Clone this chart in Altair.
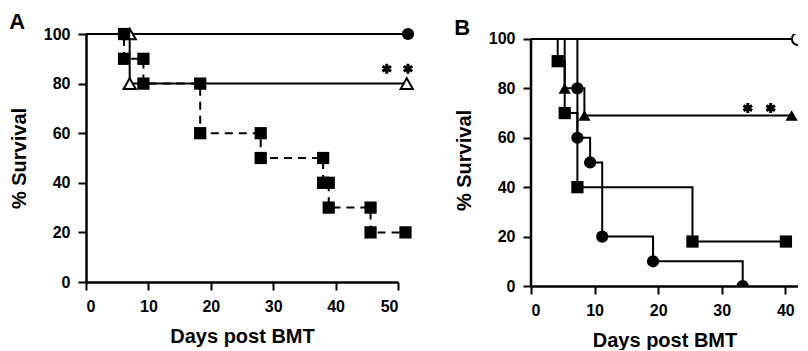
import altair as alt
import pandas as pd

FONT = "Liberation Sans"

# ---------------- Panel A (vertices of the survival step curves) ----------------
a_circle_day = [0, 51.6]
a_circle_surv = [100, 100]
a_circle_mark = [0, 1]

a_tri_day = [0, 7.0, 7.0, 51.4]
a_tri_surv = [100, 100, 80, 80]
a_tri_mark = [0, 1, 1, 1]

a_sq_day = [0, 6.1, 6.1, 9.2, 9.2, 18.3, 18.3, 28.0, 28.0, 38.0, 38.0, 38.9, 38.9, 45.6, 45.6, 51.2]
a_sq_surv = [100, 100, 90, 90, 80, 80, 60, 60, 50, 50, 40, 40, 30, 30, 20, 20]
a_sq_mark = [0, 1, 1, 1, 1, 1, 1, 1, 1, 1, 1, 1, 1, 1, 1, 1]

a_star_day = [48.2, 51.6]
a_star_surv = [86, 86]

# ---------------- Panel B ----------------
b_ocircle_day = [0, 42.0]
b_ocircle_surv = [100, 100]
b_ocircle_mark = [0, 1]

b_tri_day = [0, 5.3, 5.3, 8.4, 8.4, 41.0]
b_tri_surv = [100, 100, 80, 80, 69, 69]
b_tri_mark = [0, 0, 1, 0, 1, 1]

b_sq_day = [0, 4.2, 4.2, 5.3, 5.3, 7.3, 7.3, 25.4, 25.4, 40.1]
b_sq_surv = [100, 100, 91, 91, 70, 70, 40, 40, 18, 18]
b_sq_mark = [0, 0, 1, 0, 1, 0, 1, 0, 1, 1]

b_circle_day = [0, 7.3, 7.3, 7.3, 9.3, 9.3, 11.2, 11.2, 19.2, 19.2, 33.3, 33.3]
b_circle_surv = [100, 100, 80, 60, 60, 50, 50, 20, 20, 10, 10, 0]
b_circle_mark = [0, 0, 1, 1, 0, 1, 0, 1, 0, 1, 0, 1]

b_star_day = [34.1, 37.7]
b_star_surv = [72, 72]

x_ticks_a = [0, 10, 20, 30, 40, 50]
x_ticks_b = [0, 10, 20, 30, 40]
y_ticks = [0, 20, 40, 60, 80, 100]

STAR = "M0,-1L0,1M-0.87,-0.5L0.87,0.5M-0.87,0.5L0.87,-0.5"


def series_layers(day, surv, mark, shape, open_, dash, xs, ys, xax, yax, clip):
    df = pd.DataFrame({"day": day, "surv": surv, "mark": mark, "ord": list(range(len(day)))})
    base = alt.Chart(df)
    line_kw = dict(color="black", strokeWidth=2, clip=clip)
    if dash:
        line_kw["strokeDash"] = dash
    line = base.mark_line(**line_kw).encode(
        x=alt.X("day:Q", scale=xs, axis=xax),
        y=alt.Y("surv:Q", scale=ys, axis=yax),
        order="ord:Q",
    )
    if open_:
        pk = dict(shape=shape, filled=True, fill="white", stroke="black", strokeWidth=2,
                  size=150, opacity=1, clip=clip)
    else:
        pk = dict(shape=shape, filled=True, color="black", size=150, opacity=1, clip=clip)
    pts = base.transform_filter("datum.mark == 1").mark_point(**pk).encode(
        x=alt.X("day:Q", scale=xs, axis=xax),
        y=alt.Y("surv:Q", scale=ys, axis=yax),
    )
    return [line, pts]


def stars(day, surv, xs, ys, xax, yax):
    df = pd.DataFrame({"day": day, "surv": surv})
    return alt.Chart(df).mark_point(shape=STAR, filled=False, color="black", strokeWidth=3,
                                    size=100, opacity=1).encode(
        x=alt.X("day:Q", scale=xs, axis=xax),
        y=alt.Y("surv:Q", scale=ys, axis=yax),
    )


def title(t):
    return alt.TitleParams(t, anchor="start", frame="bounds", font=FONT, fontSize=22,
                           fontWeight="bold", color="black", offset=-9)


# Panel A
xs_a = alt.Scale(domain=[0, 50], nice=False, zero=False)
ys_a = alt.Scale(domain=[0, 100], nice=False)
xax_a = alt.Axis(values=x_ticks_a, title="Days post BMT")
yax_a = alt.Axis(values=y_ticks, title="% Survival")

layers_a = []
layers_a += series_layers(a_circle_day, a_circle_surv, a_circle_mark, "circle", False, None, xs_a, ys_a, xax_a, yax_a, False)
layers_a += series_layers(a_tri_day, a_tri_surv, a_tri_mark, "triangle-up", True, None, xs_a, ys_a, xax_a, yax_a, False)
layers_a += series_layers(a_sq_day, a_sq_surv, a_sq_mark, "square", False, [8, 6], xs_a, ys_a, xax_a, yax_a, False)
layers_a.append(stars(a_star_day, a_star_surv, xs_a, ys_a, xax_a, yax_a))
panel_a = alt.layer(*layers_a).properties(width=312, height=248, title=title("A"))

# Panel B
xs_b = alt.Scale(domain=[0, 42], nice=False, zero=False)
ys_b = alt.Scale(domain=[0, 102], nice=False)
xax_b = alt.Axis(values=x_ticks_b, title="Days post BMT")
yax_b = alt.Axis(values=y_ticks, title="% Survival", domain=False)

layers_b = []
axis_rule = alt.Chart(pd.DataFrame({"x": [0], "y": [0], "y2": [100]})).mark_rule(
    color="black", strokeWidth=2.5).encode(
    x=alt.X("x:Q", scale=xs_b, axis=xax_b),
    y=alt.Y("y:Q", scale=ys_b, axis=yax_b),
    y2="y2:Q",
)
layers_b.append(axis_rule)
layers_b += series_layers(b_ocircle_day, b_ocircle_surv, b_ocircle_mark, "circle", True, None, xs_b, ys_b, xax_b, yax_b, True)
layers_b += series_layers(b_tri_day, b_tri_surv, b_tri_mark, "triangle-up", False, None, xs_b, ys_b, xax_b, yax_b, True)
layers_b += series_layers(b_sq_day, b_sq_surv, b_sq_mark, "square", False, None, xs_b, ys_b, xax_b, yax_b, True)
layers_b += series_layers(b_circle_day, b_circle_surv, b_circle_mark, "circle", False, None, xs_b, ys_b, xax_b, yax_b, True)
layers_b.append(stars(b_star_day, b_star_surv, xs_b, ys_b, xax_b, yax_b))
panel_b = alt.layer(*layers_b).properties(width=267, height=252, title=title("B"))

chart = alt.hconcat(panel_a, panel_b, spacing=133, bounds="flush").properties(
    padding={"left": 1, "top": 2, "right": 0, "bottom": 0},
    background="white",
).configure_view(stroke=None).configure_axis(
    domainColor="black", domainWidth=2.5, tickColor="black", tickWidth=2, tickSize=8,
    labelFont=FONT, labelFontWeight="bold", labelFontSize=16, labelColor="black",
    labelPadding=8, titleFont=FONT, titleFontWeight="bold", titleFontSize=20,
    titleColor="black", grid=False,
).configure_axisY(titlePadding=14).configure_axisX(titlePadding=12)

chart.save("out.html", embed_options={"renderer": "svg", "actions": False})
